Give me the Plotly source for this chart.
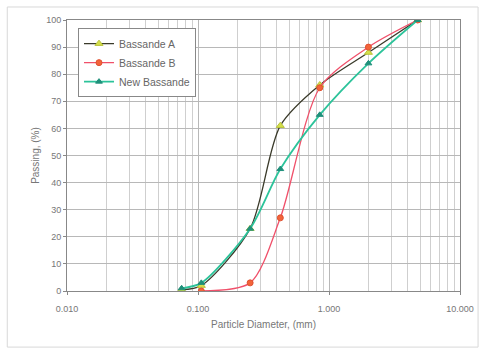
import plotly.graph_objects as go

# Sieve sizes (mm) and cumulative percent passing for each sand
sizes_a = [0.075, 0.106, 0.25, 0.425, 0.85, 2.0, 4.75]
passing_a = [0.5, 2, 23, 61, 76, 88, 100]

sizes_b = [0.106, 0.25, 0.425, 0.85, 2.0, 4.75]
passing_b = [0, 3, 27, 75, 90, 100]

sizes_new = [0.075, 0.106, 0.25, 0.425, 0.85, 2.0, 4.75]
passing_new = [1, 3, 23, 45, 65, 84, 100]

series_names = ["Bassande A", "Bassande B", "New Bassande"]

x_tickvals = [0.01, 0.1, 1, 10]
x_ticktext = ["0.010", "0.100", "1.000", "10.000"]
y_tickvals = list(range(0, 101, 10))

fig = go.Figure()

fig.add_trace(go.Scatter(
    x=sizes_a, y=passing_a, name=series_names[0], mode="lines+markers",
    line=dict(color="#3a3a2a", width=1.3, shape="spline", smoothing=0.8),
    marker=dict(symbol="triangle-up", size=7, color="#d4df4a",
                line=dict(color="#b8c23a", width=1)),
))
fig.add_trace(go.Scatter(
    x=sizes_b, y=passing_b, name=series_names[1], mode="lines+markers",
    line=dict(color="#f0506a", width=1.3, shape="spline", smoothing=0.8),
    marker=dict(symbol="circle", size=6, color="#f2643a",
                line=dict(color="#e05030", width=1)),
))
fig.add_trace(go.Scatter(
    x=sizes_new, y=passing_new, name=series_names[2], mode="lines+markers",
    line=dict(color="#2cc39a", width=1.8, shape="spline", smoothing=0.8),
    marker=dict(symbol="triangle-up", size=6, color="#1f8f7a",
                line=dict(color="#1f8f7a", width=1)),
))

grid = "#b8b8b8"
fig.update_xaxes(
    type="log", range=[-2, 1],
    tickvals=x_tickvals, ticktext=x_ticktext,
    showgrid=True, gridcolor=grid, gridwidth=1,
    minor=dict(showgrid=True, gridcolor="#cfcfcf", gridwidth=1,
               tickvals=[m * 10 ** e for e in (-2, -1, 0) for m in range(2, 10)]),
    showline=True, linecolor="#888888", linewidth=1, mirror=True,
    ticks="outside", ticklen=3, tickcolor="#888888",
    ticklabelstandoff=6,
    tickfont=dict(family="Liberation Sans, Arial", size=9, color="#777777"),
    title=dict(text="Particle Diameter, (mm)", standoff=8,
               font=dict(family="Liberation Sans, Arial", size=10, color="#777777")),
    zeroline=False,
)
fig.update_yaxes(
    range=[0, 100], tickvals=y_tickvals,
    showgrid=True, gridcolor=grid, gridwidth=1,
    showline=True, linecolor="#888888", linewidth=1, mirror=True,
    ticks="outside", ticklen=3, tickcolor="#888888",
    tickfont=dict(family="Liberation Sans, Arial", size=9, color="#777777"),
    title=dict(text="Passing, (%)", standoff=4,
               font=dict(family="Liberation Sans, Arial", size=10, color="#777777")),
    zeroline=False,
)

fig.update_layout(
    width=486, height=353,
    margin=dict(l=67, r=24, t=20, b=62),
    paper_bgcolor="white", plot_bgcolor="white",
    showlegend=True,
    legend=dict(x=0.028, y=0.97, xanchor="left", yanchor="top",
                bgcolor="white", bordercolor="#888888", borderwidth=1,
                font=dict(family="Liberation Sans, Arial", size=10.5, color="#666666"),
                tracegroupgap=3, itemwidth=30),
    shapes=[dict(type="rect", xref="paper", yref="paper",
                 x0=-0.152, x1=1.046, y0=-0.207, y1=1.048,
                 line=dict(color="#d8d8d8", width=1), layer="below")],
)

fig.write_html("out.html")
